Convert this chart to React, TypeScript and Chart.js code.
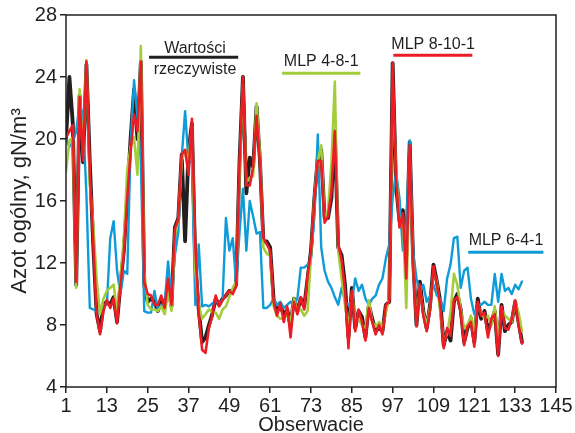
import React, { useEffect, useRef } from "react";
import { Chart, registerables } from "chart.js";

Chart.register(...registerables);

const FONT = "'Liberation Sans', Arial, Helvetica, sans-serif";

// Observed values ("Wartości rzeczywiste"), observations 1..135
const actualValues = [
  20.0, 24.0, 21.0, 10.6, 22.8, 18.5, 24.8, 18.5, 13.2, 8.7,
  7.6, 9.3, 9.5, 9.3, 9.8, 8.2, 10.6, 12.8, 16.2, 20.1,
  23.2, 20.0, 25.0, 10.6, 9.5, 9.7, 9.5, 8.9, 9.7, 9.2,
  10.6, 9.2, 14.3, 14.9, 19.0, 13.4, 19.2, 21.0, 12.0, 9.0,
  6.9, 7.2, 8.0, 8.7, 9.7, 9.3, 9.7, 9.9, 10.2, 10.2,
  10.6, 18.6, 24.0, 16.5, 18.8, 18.2, 22.1, 18.6, 13.4, 13.4,
  13.0, 9.7, 8.9, 9.2, 8.7, 9.0, 8.0, 9.7, 8.9, 9.7,
  9.2, 11.0, 12.8, 16.2, 18.8, 19.3, 14.9, 14.9, 16.2, 20.5,
  13.0, 12.5, 10.6, 7.2, 10.4, 7.8, 8.9, 8.5, 7.2, 9.3,
  8.4, 7.6, 7.8, 7.6, 9.3, 9.5, 24.9, 17.0, 14.7, 15.4,
  12.5, 19.8, 12.3, 8.0, 10.8, 8.9, 7.8, 9.3, 11.9, 10.8,
  9.5, 6.7, 7.6, 7.0, 9.5, 10.0, 9.0, 6.9, 7.8, 8.4,
  6.9, 9.7, 8.4, 8.9, 7.6, 8.2, 8.9, 6.1, 9.3, 7.6,
  8.0, 8.2, 9.5, 8.2, 6.9,
];

// MLP 8-10-1
const mlp8101Values = [
  20.1, 20.5, 20.9, 10.8, 22.7, 18.6, 25.0, 17.9, 13.4, 8.7,
  7.4, 8.9, 9.6, 9.1, 9.7, 8.1, 10.6, 12.6, 16.2, 19.2,
  21.6, 20.5, 25.0, 10.8, 10.0, 9.9, 9.3, 9.3, 9.9, 9.1,
  11.0, 9.3, 14.2, 14.8, 19.0, 19.3, 17.7, 21.3, 13.0, 8.8,
  6.4, 6.2, 7.8, 8.6, 9.9, 9.2, 9.6, 9.9, 10.2, 10.0,
  10.5, 18.4, 24.0, 17.0, 17.0, 18.2, 21.5, 18.5, 13.6, 13.2,
  12.8, 9.5, 8.6, 9.4, 8.2, 9.2, 7.2, 9.5, 8.7, 9.8,
  9.0, 11.2, 12.7, 16.0, 18.6, 18.6, 14.6, 15.0, 16.6, 20.5,
  13.2, 12.2, 10.2, 6.5, 10.2, 7.6, 9.0, 8.2, 7.0, 9.1,
  8.2, 7.4, 8.0, 7.4, 9.3, 9.5, 24.9, 17.5, 14.3, 15.2,
  11.0, 19.6, 12.0, 7.9, 10.6, 8.6, 7.6, 9.0, 11.8, 10.6,
  9.3, 6.5, 7.8, 7.3, 9.6, 9.8, 8.8, 6.7, 7.9, 8.2,
  6.6, 9.5, 8.6, 8.8, 7.2, 8.4, 8.7, 6.0, 9.2, 7.8,
  7.7, 8.4, 9.6, 8.0, 6.8,
];

// MLP 4-8-1
const mlp481Values = [
  17.9, 19.9, 20.1, 10.4, 23.2, 19.0, 25.1, 17.1, 14.5, 11.0,
  8.7, 9.7, 10.2, 10.4, 10.6, 8.9, 11.0, 13.6, 18.0, 19.5,
  20.1, 17.7, 26.0, 11.5, 9.3, 9.0, 9.0, 8.9, 9.2, 8.7,
  10.2, 8.9, 13.8, 14.8, 18.6, 19.2, 18.6, 20.8, 11.5, 9.3,
  8.4, 8.7, 9.0, 8.8, 8.8, 8.4, 9.0, 9.2, 9.8, 10.4,
  10.8, 17.8, 23.5, 17.2, 17.5, 17.6, 22.3, 19.0, 13.0, 12.6,
  12.5, 9.2, 8.6, 8.4, 8.4, 8.7, 8.2, 9.7, 8.9, 9.0,
  8.6, 8.9, 12.5, 16.2, 18.6, 19.6, 14.8, 15.4, 18.4, 23.7,
  12.8, 11.0, 9.3, 7.8, 10.0, 8.4, 8.4, 8.0, 7.8, 9.6,
  8.2, 7.9, 8.2, 7.8, 8.8, 9.8, 23.1, 18.0, 14.5, 15.0,
  9.1, 18.5, 12.0, 8.3, 10.4, 8.8, 8.0, 9.2, 11.5, 10.8,
  8.8, 7.0, 7.4, 8.8, 11.3, 10.6, 9.0, 7.8, 8.0, 8.6,
  7.6, 9.3, 8.8, 8.4, 8.6, 8.0, 9.2, 7.2, 9.0, 8.6,
  8.4, 8.2, 9.5, 8.8, 7.6,
];

// MLP 6-4-1
const mlp641Values = [
  20.0, 19.5, 19.8, 20.5, 22.3, 21.5, 16.4, 9.1, 9.0, 8.9,
  8.9, 9.3, 9.3, 13.6, 14.7, 11.5, 10.0, 11.5, 11.3, 19.7,
  23.8, 21.4, 18.5, 8.9, 8.8, 8.8, 10.2, 9.0, 9.3, 9.4,
  12.1, 9.7, 12.5, 14.0, 18.8, 21.8, 18.6, 18.4, 9.3, 13.2,
  9.2, 9.3, 9.2, 9.4, 9.5, 9.4, 9.6, 14.9, 12.8, 13.6,
  10.6, 14.0, 16.8, 12.8, 16.0, 15.0, 13.9, 14.0, 9.1, 9.1,
  9.3, 9.7, 9.3, 9.5, 9.1, 9.3, 9.5, 9.3, 9.7, 11.7,
  11.7, 11.9, 12.3, 15.0, 20.3, 13.0, 11.5, 10.8, 10.4, 9.8,
  9.3, 10.4, 9.5, 9.3, 9.5, 11.0, 10.2, 10.6, 9.7, 9.3,
  9.7, 9.9, 10.6, 11.0, 12.3, 13.2, 16.2, 17.9, 16.2, 12.8,
  14.3, 19.9, 12.8, 11.0, 10.2, 10.6, 9.5, 9.9, 10.6, 9.9,
  9.7, 8.9, 11.0, 11.9, 13.6, 13.7, 10.4, 11.5, 11.7, 9.7,
  8.7, 9.3, 9.3, 9.5, 9.3, 9.3, 11.3, 9.5, 11.3, 10.2,
  10.4, 10.0, 10.6, 10.3, 10.8,
];

const xTickValues = [1, 13, 25, 37, 49, 61, 73, 85, 97, 109, 121, 133, 145];
const yTickValues = [4, 8, 12, 16, 20, 24, 28];

const seriesNames = ["MLP 8-10-1", "MLP 4-8-1", "MLP 6-4-1", "Wartości rzeczywiste"];

const COLORS = {
  black: "#231f20",
  green: "#a3cd3b",
  red: "#ec1c24",
  blue: "#0f9bd7",
};

const toPoints = (arr: number[]) => arr.map((v, i) => ({ x: i + 1, y: v }));

// In-plot series labels (placed in data coordinates)
const seriesLabels = [
  {
    texts: [
      { text: "Wartości", x: 38.9, y: 25.85 },
      { text: "rzeczywiste", x: 38.9, y: 24.5 },
    ],
    color: COLORS.black,
    line: { x0: 25.4, x1: 51.6, y: 25.28 },
  },
  {
    texts: [{ text: "MLP 4-8-1", x: 76.0, y: 24.97 }],
    color: COLORS.green,
    line: { x0: 64.5, x1: 87.5, y: 24.24 },
  },
  {
    texts: [{ text: "MLP 8-10-1", x: 108.9, y: 26.07 }],
    color: COLORS.red,
    line: { x0: 97.2, x1: 120.4, y: 25.41 },
  },
  {
    texts: [{ text: "MLP 6-4-1", x: 130.3, y: 13.45 }],
    color: COLORS.blue,
    line: { x0: 119.2, x1: 141.3, y: 12.7 },
  },
];

const labelPlugin = {
  id: "seriesLabels",
  afterDraw(chart: any) {
    const { ctx, chartArea } = chart;
    const xs = chart.scales.x;
    const ys = chart.scales.y;
    ctx.save();
    ctx.font = `16px ${FONT}`;
    ctx.textAlign = "center";
    ctx.textBaseline = "middle";
    for (const lab of seriesLabels) {
      ctx.fillStyle = COLORS.black;
      for (const t of lab.texts) {
        ctx.fillText(t.text, xs.getPixelForValue(t.x), ys.getPixelForValue(t.y));
      }
      ctx.strokeStyle = lab.color;
      ctx.lineWidth = 3;
      ctx.beginPath();
      const yy = ys.getPixelForValue(lab.line.y);
      ctx.moveTo(xs.getPixelForValue(lab.line.x0), yy);
      ctx.lineTo(xs.getPixelForValue(lab.line.x1), yy);
      ctx.stroke();
    }
    ctx.strokeStyle = COLORS.black;
    ctx.lineWidth = 1.5;
    ctx.strokeRect(
      chartArea.left,
      chartArea.top,
      chartArea.right - chartArea.left,
      chartArea.bottom - chartArea.top
    );
    ctx.restore();
  },
};

export default function App() {
  const canvasRef = useRef<HTMLCanvasElement | null>(null);

  useEffect(() => {
    const canvas = canvasRef.current;
    if (!canvas) return;
    const chart = new Chart(canvas, {
      type: "line",
      data: {
        datasets: [
          {
            label: seriesNames[0],
            data: toPoints(mlp8101Values),
            borderColor: COLORS.red,
            borderWidth: 2.6,
          },
          {
            label: seriesNames[1],
            data: toPoints(mlp481Values),
            borderColor: COLORS.green,
            borderWidth: 2.6,
          },
          {
            label: seriesNames[2],
            data: toPoints(mlp641Values),
            borderColor: COLORS.blue,
            borderWidth: 2.4,
          },
          {
            label: seriesNames[3],
            data: toPoints(actualValues),
            borderColor: COLORS.black,
            borderWidth: 3.8,
          },
        ] as any,
      },
      options: {
        responsive: false,
        animation: false,
        events: [],
        layout: { padding: { left: 0, right: 19, top: 15, bottom: 0 } },
        elements: {
          point: { radius: 0 },
          line: { tension: 0, borderJoinStyle: "round", borderCapStyle: "round" },
        },
        plugins: {
          legend: { display: false },
          tooltip: { enabled: false },
        },
        scales: {
          x: {
            type: "linear",
            min: 1,
            max: 145,
            afterBuildTicks: (s: any) => {
              s.ticks = xTickValues.map((v) => ({ value: v }));
            },
            afterFit: (s: any) => {
              s.height = 46;
            },
            ticks: {
              autoSkip: false,
              maxRotation: 0,
              padding: 1,
              color: COLORS.black,
              font: { size: 20, family: FONT },
            },
            grid: {
              drawOnChartArea: false,
              drawTicks: true,
              tickLength: 6,
              color: COLORS.black,
              lineWidth: 1.5,
            },
            border: { display: false },
            title: {
              display: true,
              text: "Obserwacie",
              color: COLORS.black,
              font: { size: 20, family: FONT, lineHeight: 1 },
              padding: { top: 0, bottom: -2 },
            },
          },
          y: {
            type: "linear",
            min: 4,
            max: 28,
            afterBuildTicks: (s: any) => {
              s.ticks = yTickValues.map((v) => ({ value: v }));
            },
            afterFit: (s: any) => {
              s.width = 66;
            },
            ticks: {
              padding: 3,
              color: COLORS.black,
              font: { size: 20, family: FONT },
            },
            grid: {
              drawOnChartArea: false,
              drawTicks: true,
              tickLength: 6,
              color: COLORS.black,
              lineWidth: 1.5,
            },
            border: { display: false },
            title: {
              display: true,
              text: "Azot ogólny, gN/m³",
              color: COLORS.black,
              font: { size: 22, family: FONT, lineHeight: 1 },
              padding: { top: 9, bottom: 0 },
            },
          },
        },
      },
      plugins: [labelPlugin],
    } as any);
    return () => chart.destroy();
  }, []);

  return (
    <div style={{ position: "absolute", left: 0, top: 0, width: 575, height: 433, background: "#fff" }}>
      <canvas ref={canvasRef} width={575} height={433} style={{ display: "block" }} />
    </div>
  );
}
